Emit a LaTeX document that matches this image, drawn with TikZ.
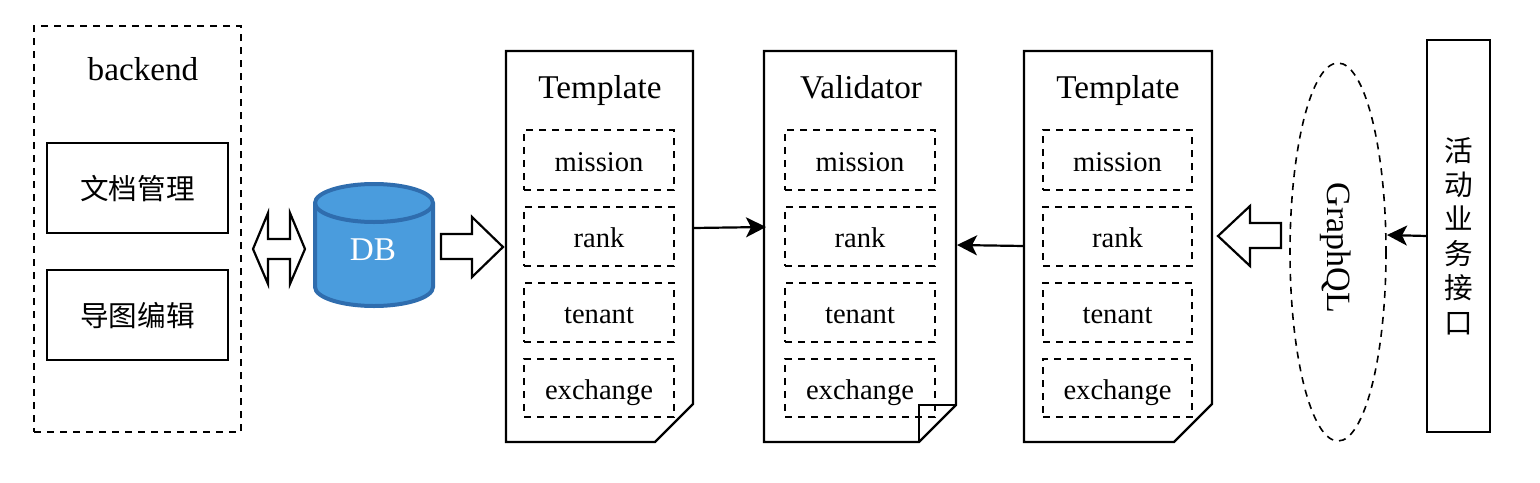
\documentclass[tikz,border=0pt]{standalone}
\usepackage{fontspec}
\setmainfont{Liberation Serif}
\newfontfamily\cjkfont{Noto Sans CJK SC}
\usetikzlibrary{arrows.meta}
\definecolor{dbfill}{HTML}{4A9CDD}
\definecolor{dbline}{HTML}{2F6DAE}
\tikzset{
  every picture/.style={x=0.5pt,y=-0.5pt},
  solidline/.style={draw=black,line width=1.1pt,line join=miter},
  dashline/.style={draw=black,line width=1pt,dash pattern=on 3.5pt off 3pt},
  rectbox/.style={solidline,inner sep=0pt,outer sep=0pt,align=center,text height=12pt,text depth=1pt},
  dashbox/.style={dashline,inner sep=0pt,outer sep=0pt,align=center,text height=12pt,text depth=1pt},
  title/.style={font=\fontsize{16.6}{20}\selectfont,inner sep=0pt,text height=12pt,text depth=1pt},
  item/.style={font=\fontsize{14.3}{18}\selectfont},
  cjk/.style={font=\cjkfont\fontsize{14.3}{17.2}\selectfont},
  link/.style={draw=black,line width=1.1pt,-{Stealth[length=10pt,width=10pt,inset=2.5pt]},shorten >=0pt},
  hollow/.style={draw=black,line width=1.1pt,fill=white,line join=miter}
}
% name, x1, y1, x2, y2, style, text
\newcommand{\bx}[7]{%
  \pgfmathsetmacro{\bxw}{(#4-#2)*0.5}%
  \pgfmathsetmacro{\bxh}{(#5-#3)*0.5}%
  \node[#6,minimum width=\bxw pt,minimum height=\bxh pt] (#1) at ({(#2+#4)/2},{(#3+#5)/2}) {#7};}
\newcommand{\items}[3]{% prefix, x1, x2
  \bx{#1a}{#2}{130}{#3}{190}{dashbox,item}{mission}
  \bx{#1b}{#2}{207}{#3}{266}{dashbox,item}{rank}
  \bx{#1c}{#2}{283}{#3}{342}{dashbox,item}{tenant}
  \bx{#1d}{#2}{359}{#3}{417}{dashbox,item}{exchange}}
\begin{document}
\begin{tikzpicture}
\useasboundingbox (0,0) rectangle (1540,482);
% backend
\bx{backend}{34}{26}{241}{432}{dashbox}{}
\node[title] (backendt) at (143,69) {backend};
\bx{doc}{47}{143}{228}{233}{rectbox,cjk}{文档管理}
\bx{map}{47}{270}{228}{360}{rectbox,cjk}{导图编辑}
% double arrow
\draw[hollow] (253,249) -- (268,213) -- (268,239) -- (290,239) -- (290,213) -- (305,249)
  -- (290,284) -- (290,259) -- (268,259) -- (268,284) -- cycle;
% DB
\draw[draw=dbline,fill=dbfill,line width=2pt]
  (315,203) -- (315,287) arc[start angle=180,end angle=360,x radius=59,y radius=-19]
  -- (433,203) arc[start angle=0,end angle=180,x radius=59,y radius=-19] -- cycle;
\draw[draw=dbline,line width=2pt] (315,203) arc[start angle=180,end angle=360,x radius=59,y radius=-19];
\node[title,text=white] (db) at (373,249) {DB};
% arrow to template
\draw[hollow] (441,234) -- (472,234) -- (472,217) -- (503,247) -- (472,277) -- (472,259) -- (441,259) -- cycle;
% Template 1
\draw[solidline] (506,51) -- (693,51) -- (693,404) -- (655,442) -- (506,442) -- cycle;
\node[title] (t1) at (600,87) {Template};
\items{p}{524}{674}
% Validator
\draw[solidline] (764,51) -- (956,51) -- (956,405) -- (919,442) -- (764,442) -- cycle;
\draw[solidline] (956,405) -- (919,405) -- (919,442);
\node[title] (v1) at (861,87) {Validator};
\items{q}{785}{935}
% Template 2
\draw[solidline] (1024,51) -- (1212,51) -- (1212,404) -- (1174,442) -- (1024,442) -- cycle;
\node[title] (t2) at (1118,87) {Template};
\items{r}{1043}{1192}
% connectors
\coordinate (c1) at (693,228);
\coordinate (c2) at (766,227);
\coordinate (c3) at (1024,246);
\coordinate (c4) at (957,245);
\draw[link] (c1) -- (c2);
\draw[link] (c3) -- (c4);
% big left arrow
\draw[hollow] (1281,223) -- (1250,223) -- (1250,206) -- (1218,236) -- (1250,266) -- (1250,248) -- (1281,248) -- cycle;
% GraphQL
\draw[dashline,line width=0.8pt] (1338,252) ellipse[x radius=48,y radius=189];
\node[title,rotate=-90,font=\fontsize{17}{20}\selectfont] (gql) at (1338,248) {GraphQL};
% interface box
\bx{api}{1427}{40}{1490}{432}{rectbox,cjk,text height=,text depth=,text width=14.3pt}{活\\动\\业\\务\\接\\口}
\coordinate (c5) at (1427,236);
\coordinate (c6) at (1387,235);
\draw[link] (c5) -- (c6);
\end{tikzpicture}
\end{document}
